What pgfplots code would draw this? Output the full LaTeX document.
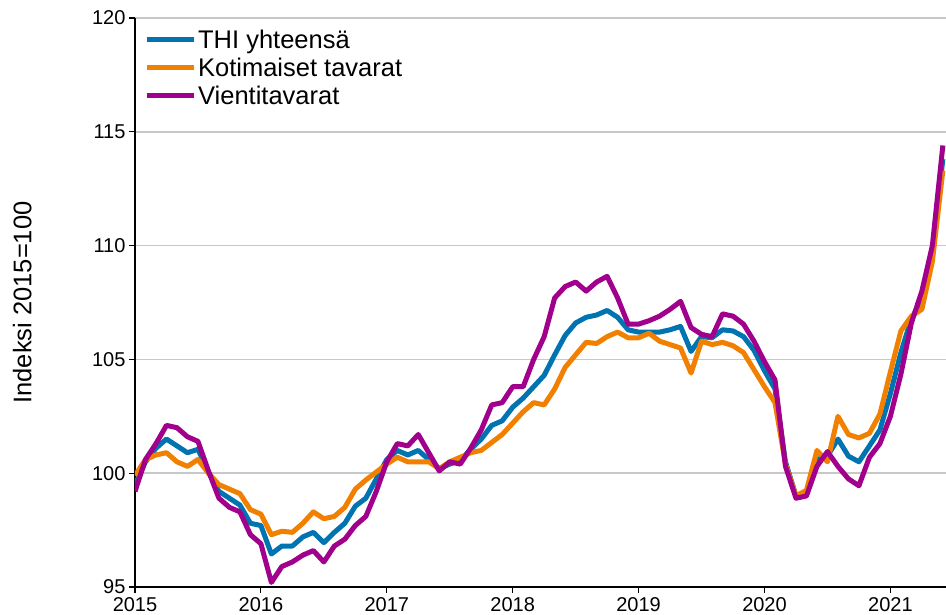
\documentclass[border=0pt]{standalone}
\usepackage{fontspec}
\setmainfont{Liberation Sans}
\usepackage{pgfplots}
\usepackage{pgfplotstable}
\pgfplotsset{compat=1.18}
\definecolor{thiblue}{RGB}{0,115,176}
\definecolor{kotorange}{RGB}{242,128,0}
\definecolor{vienpurple}{RGB}{160,0,140}
\definecolor{gridgray}{RGB}{200,200,200}

% month index 0 = Jan 2015
\pgfplotstableread{
m thi kot vie
0 99.5 99.9 99.2
1 100.5 100.6 100.6
2 101.1 100.8 101.3
3 101.5 100.9 102.1
4 101.2 100.5 102.0
5 100.9 100.3 101.6
6 101.05 100.6 101.4
7 100.05 100.0 100.1
8 99.2 99.5 98.9
9 98.9 99.3 98.5
10 98.6 99.1 98.3
11 97.8 98.4 97.3
12 97.7 98.2 96.9
13 96.45 97.3 95.2
14 96.8 97.45 95.9
15 96.8 97.4 96.1
16 97.2 97.8 96.4
17 97.4 98.3 96.6
18 96.95 98.0 96.1
19 97.4 98.1 96.8
20 97.8 98.5 97.1
21 98.55 99.3 97.7
22 98.9 99.7 98.1
23 99.75 100.05 99.2
24 100.6 100.4 100.5
25 101.0 100.7 101.3
26 100.8 100.5 101.2
27 101.0 100.5 101.7
28 100.6 100.5 100.9
29 100.2 100.2 100.1
30 100.4 100.5 100.5
31 100.55 100.7 100.4
32 101.05 100.9 101.1
33 101.5 101.0 101.9
34 102.1 101.35 103.0
35 102.3 101.7 103.1
36 102.9 102.2 103.8
37 103.3 102.7 103.8
38 103.8 103.1 105.0
39 104.3 103.0 106.0
40 105.2 103.7 107.7
41 106.05 104.65 108.2
42 106.6 105.2 108.4
43 106.85 105.75 108.0
44 106.95 105.7 108.4
45 107.15 106.0 108.65
46 106.85 106.2 107.7
47 106.3 105.95 106.55
48 106.2 105.95 106.55
49 106.2 106.15 106.7
50 106.2 105.8 106.9
51 106.3 105.65 107.2
52 106.45 105.5 107.55
53 105.35 104.4 106.4
54 106.0 105.8 106.1
55 105.95 105.65 106.0
56 106.3 105.75 107.0
57 106.25 105.6 106.9
58 106.0 105.3 106.55
59 105.4 104.55 105.8
60 104.5 103.8 104.9
61 103.7 103.1 104.1
62 100.5 100.4 100.3
63 99.0 99.0 98.9
64 99.1 99.25 99.0
65 100.6 101.0 100.3
66 100.75 100.5 100.95
67 101.5 102.5 100.3
68 100.75 101.7 99.75
69 100.5 101.55 99.45
70 101.2 101.75 100.7
71 101.9 102.6 101.3
72 103.5 104.45 102.5
73 105.3 106.25 104.35
74 106.8 106.9 106.6
75 107.6 107.2 108.0
76 109.7 109.3 110.0
77 113.8 113.3 114.4
}\datatable

\begin{document}
\begin{tikzpicture}[x=1pt,y=1pt]
\begin{axis}[
  at={(0,0)}, anchor=south west,
  scale only axis, width=811pt, height=569pt,
  xmin=0, xmax=77.3, ymin=95, ymax=120,
  axis x line*=bottom, axis y line*=left,
  axis line style={black, line width=1.5pt, -},
  xtick={0,12,24,36,48,60,72},
  xticklabels={2015,2016,2017,2018,2019,2020,2021},
  ytick={95,100,105,110,115,120},
  tick align=outside,
  major tick length=6pt,
  tick style={black, line width=1.2pt},
  ymajorgrids,
  grid style={gridgray, line width=1.5pt},
  /pgf/number format/assume math mode=true,
  tick label style={font=\fontsize{20}{24}\selectfont, text=black},
  xticklabel style={yshift=-1pt},
  ylabel={Indeksi 2015=100},
  ylabel style={font=\fontsize{25.5}{28}\selectfont, at={(axis description cs:-0.139,0.5)}, anchor=center},
  legend style={at={(axis description cs:0.011,0.983)}, anchor=north west, draw=none, fill=none,
    font=\fontsize{25.5}{28}\selectfont, inner sep=0pt, row sep=4pt,
    cells={anchor=west}},
  legend image code/.code={\draw[#1, line width=5pt] (0pt,0pt) -- (47pt,0pt);},
  every axis plot/.append style={line width=5pt, line join=round},
]
\addplot[thiblue] table[x=m, y=thi] {\datatable};
\addlegendentry{THI yhteensä}
\addplot[kotorange] table[x=m, y=kot] {\datatable};
\addlegendentry{Kotimaiset tavarat}
\addplot[vienpurple] table[x=m, y=vie] {\datatable};
\addlegendentry{Vientitavarat}
\end{axis}
\pgfresetboundingbox
\useasboundingbox (-135,-28) rectangle (811,587);
\end{tikzpicture}
\end{document}
